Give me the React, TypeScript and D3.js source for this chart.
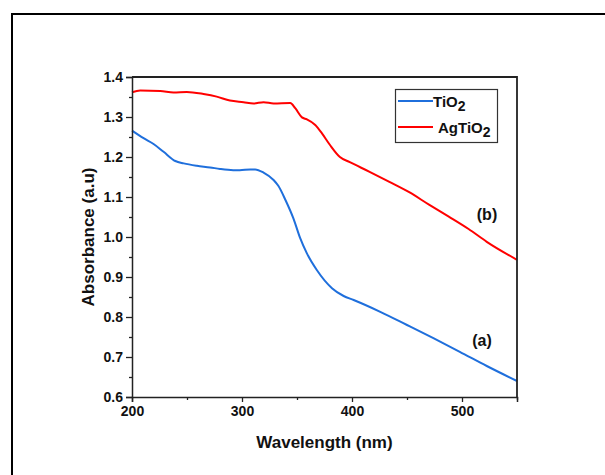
import { useEffect, useRef } from "react";
import * as d3 from "d3";

// TiO2 spectrum (a)
const tio2Wavelength = [200, 210.5, 219.6, 228.7, 239.4, 247, 259, 271, 280, 292, 298, 307.5, 312, 319.6, 328.7, 333, 339.5, 346.8, 352.9, 359, 368, 381.8, 392.4, 401.5, 425.7, 450, 474, 498, 522.5, 550];
const tio2Absorbance = [1.266, 1.247, 1.2325, 1.213, 1.19, 1.184, 1.178, 1.174, 1.17, 1.167, 1.167, 1.169, 1.169, 1.161, 1.1425, 1.128, 1.0925, 1.046, 0.997, 0.959, 0.9175, 0.872, 0.8525, 0.8425, 0.813, 0.78, 0.747, 0.713, 0.6775, 0.64];

// AgTiO2 spectrum (b)
const agWavelength = [200, 207.5, 225.7, 237.7, 249.8, 265, 277, 289, 301.4, 310.5, 319.6, 328.7, 343.9, 348.4, 354.5, 359, 366.6, 372.7, 380, 389, 398, 416, 434, 452, 470, 488, 506, 522.5, 550];
const agAbsorbance = [1.362, 1.366, 1.365, 1.361, 1.3625, 1.3575, 1.351, 1.341, 1.337, 1.334, 1.337, 1.334, 1.335, 1.322, 1.299, 1.294, 1.28, 1.259, 1.23, 1.2, 1.187, 1.163, 1.138, 1.112, 1.081, 1.051, 1.02, 0.988, 0.943];

const xMajorTicks = [200, 300, 400, 500];
const xMinorTicks = [250, 350, 450, 550];
const yMajorTicks = [0.6, 0.7, 0.8, 0.9, 1.0, 1.1, 1.2, 1.3, 1.4];
const yMinorTicks = [0.65, 0.75, 0.85, 0.95, 1.05, 1.15, 1.25, 1.35];

const BLUE = "#1f6fdc";
const RED = "#ff0000";
const FONT = "Arial, 'Liberation Sans', sans-serif";

export default function App() {
  const ref = useRef<SVGSVGElement>(null);

  useEffect(() => {
    const svg = d3.select(ref.current);
    svg.selectAll("*").remove();

    const x = d3.scaleLinear().domain([200, 550]).range([132, 517]);
    const y = d3.scaleLinear().domain([0.6, 1.4]).range([397, 77]);

    // outer frame (runs off the right and bottom edges)
    svg
      .append("rect")
      .attr("x", 12)
      .attr("y", 14)
      .attr("width", 700)
      .attr("height", 600)
      .attr("fill", "none")
      .attr("stroke", "#000")
      .attr("stroke-width", 2);

    const line = d3
      .line<[number, number]>()
      .x((d) => x(d[0]))
      .y((d) => y(d[1]))
      .curve(d3.curveMonotoneX);

    svg
      .append("path")
      .datum(d3.zip(tio2Wavelength, tio2Absorbance) as [number, number][])
      .attr("fill", "none")
      .attr("stroke", BLUE)
      .attr("stroke-width", 2)
      .attr("d", line);

    svg
      .append("path")
      .datum(d3.zip(agWavelength, agAbsorbance) as [number, number][])
      .attr("fill", "none")
      .attr("stroke", RED)
      .attr("stroke-width", 2)
      .attr("d", line);

    // axes
    const axisColor = "#222";
    const xAxis = svg
      .append("g")
      .attr("transform", `translate(0,${y(0.6)})`)
      .call(d3.axisBottom(x).tickValues(xMajorTicks).tickSize(5).tickFormat(d3.format("d")));
    svg
      .append("g")
      .attr("transform", `translate(0,${y(0.6)})`)
      .call(d3.axisBottom(x).tickValues(xMinorTicks).tickSize(3).tickFormat(() => ""))
      .call((g) => g.select(".domain").remove());

    const yAxis = svg
      .append("g")
      .attr("transform", `translate(${x(200)},0)`)
      .call(d3.axisLeft(y).tickValues(yMajorTicks).tickSize(6).tickFormat(d3.format(".1f")));
    svg
      .append("g")
      .attr("transform", `translate(${x(200)},0)`)
      .call(d3.axisLeft(y).tickValues(yMinorTicks).tickSize(3).tickFormat(() => ""))
      .call((g) => g.select(".domain").remove());

    [xAxis, yAxis].forEach((g) => {
      g.select(".domain").attr("stroke", axisColor).attr("stroke-width", 1.5);
      g.selectAll(".tick text")
        .attr("fill", "#111")
        .style("font-family", FONT)
        .style("font-size", "14px")
        .style("font-weight", "bold");
    });
    svg.selectAll(".tick line").attr("stroke", axisColor).attr("stroke-width", 1.3);
    xAxis.selectAll(".tick text").attr("y", 9);
    yAxis.selectAll(".tick text").attr("x", -9);

    // top and right frame of the plot
    svg
      .append("path")
      .attr("d", `M${x(200)},${y(1.4)}H${x(550)}V${y(0.6)}`)
      .attr("fill", "none")
      .attr("stroke", axisColor)
      .attr("stroke-width", 1.8);

    // axis titles
    svg
      .append("text")
      .attr("x", (x(200) + x(550)) / 2)
      .attr("y", 448)
      .attr("text-anchor", "middle")
      .style("font-family", FONT)
      .style("font-size", "17px")
      .style("font-weight", "bold")
      .attr("fill", "#111")
      .text("Wavelength (nm)");

    svg
      .append("text")
      .attr("transform", `translate(94,${(y(0.6) + y(1.4)) / 2}) rotate(-90)`)
      .attr("text-anchor", "middle")
      .style("font-family", FONT)
      .style("font-size", "17px")
      .style("font-weight", "bold")
      .attr("fill", "#111")
      .text("Absorbance (a.u)");

    // curve labels
    svg
      .append("text")
      .attr("x", 487)
      .attr("y", 220)
      .attr("text-anchor", "middle")
      .style("font-family", FONT)
      .style("font-size", "16px")
      .style("font-weight", "bold")
      .attr("fill", "#111")
      .text("(b)");
    svg
      .append("text")
      .attr("x", 482)
      .attr("y", 346)
      .attr("text-anchor", "middle")
      .style("font-family", FONT)
      .style("font-size", "16px")
      .style("font-weight", "bold")
      .attr("fill", "#111")
      .text("(a)");

    // legend
    const legend = svg.append("g");
    legend
      .append("rect")
      .attr("x", 395.5)
      .attr("y", 89.5)
      .attr("width", 102)
      .attr("height", 53)
      .attr("fill", "#fff")
      .attr("stroke", "#333")
      .attr("stroke-width", 1.2);

    const items = [
      { name: "TiO", color: BLUE, lx: 433, ly: 101, ty: 107 },
      { name: "AgTiO", color: RED, lx: 438, ly: 127, ty: 133 },
    ];
    items.forEach((it) => {
      legend
        .append("line")
        .attr("x1", 398)
        .attr("x2", 433)
        .attr("y1", it.ly)
        .attr("y2", it.ly)
        .attr("stroke", it.color)
        .attr("stroke-width", 2);
      const t = legend
        .append("text")
        .attr("x", it.lx)
        .attr("y", it.ty)
        .style("font-family", FONT)
        .style("font-size", "15px")
        .style("font-weight", "bold")
        .attr("fill", "#111");
      t.append("tspan").text(it.name);
      t.append("tspan").attr("dy", 4).style("font-size", "14px").text("2");
    });
  }, []);

  return (
    <svg
      ref={ref}
      width={605}
      height={475}
      style={{ position: "absolute", left: 0, top: 0, background: "#fff" }}
    />
  );
}
